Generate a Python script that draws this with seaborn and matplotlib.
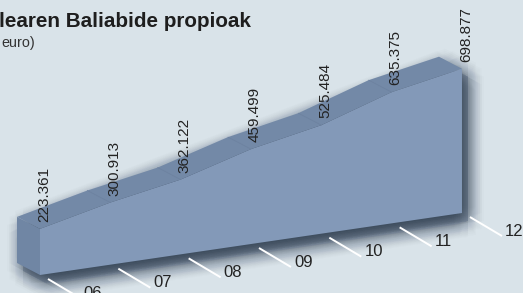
import matplotlib
matplotlib.use("Agg")
import matplotlib.pyplot as plt
import matplotlib.transforms as mtransforms
from matplotlib.patches import Polygon
import numpy as np
import pandas as pd
import seaborn as sns

# datuak
years = ['06', '07', '08', '09', '10', '11', '12']
values = [223.361, 300.913, 362.122, 459.499, 525.484, 635.375, 698.877]
title = 'learen Baliabide propioak'
subtitle = 'euro)'

df = pd.DataFrame({'urtea': years, 'balioa': values})
df['i'] = np.arange(len(df))

sns.set_theme(style='white')
plt.rcParams['font.family'] = ['Liberation Sans', 'DejaVu Sans']
narrow = ['Liberation Sans Narrow', 'Liberation Sans', 'DejaVu Sans']

bg = '#d9e3e9'
front_c = '#8399b8'
top_c = '#7389a7'
side_c = '#7086a4'

fig = plt.figure(figsize=(5.23, 2.93), dpi=100, facecolor=bg)
ax = fig.add_axes([0, 0, 1, 1])
ax.set_facecolor(bg)
ax.set_xlim(0, 523)
ax.set_ylim(293, 0)
ax.axis('off')

# pseudo-3D eskala: (urte indizea, balioa) -> irudiko puntuak
step_x, step_y, vscale = 70.33, 10.33, 0.2065
base_x, base_y = 40, 275
skew = mtransforms.Affine2D(np.array([[step_x, 0, base_x],
                                      [-step_y, -vscale, base_y],
                                      [0, 0, 1]]))
depth = np.array([-23, -12])

n = len(df)
pts_top = skew.transform(np.column_stack([df['i'], df['balioa']]))
pts_bot = skew.transform(np.column_stack([df['i'], np.zeros(n)]))

front = np.vstack([pts_top, pts_bot[::-1]])
topface = np.vstack([pts_top, (pts_top + depth)[::-1]])
side = np.array([pts_bot[0], pts_top[0], pts_top[0] + depth, pts_bot[0] + depth])
silhouette = np.vstack([pts_bot[0] + depth, pts_top[0] + depth, pts_top[-1] + depth,
                        pts_top[-1], pts_bot[-1], pts_bot[0]])

# itzal lausoa
for r in np.linspace(0, 16, 9):
    for ang in np.linspace(0, 2 * np.pi, 12, endpoint=False):
        off = np.array([6 + r * np.cos(ang), 8 + r * np.sin(ang)])
        ax.add_patch(Polygon(silhouette + off, closed=True, fc='#34455c',
                             ec='none', alpha=0.016))

ax.add_patch(Polygon(side, closed=True, fc=side_c, ec='none'))
ax.add_patch(Polygon(topface, closed=True, fc=top_c, ec='none'))
ax.add_patch(Polygon(front, closed=True, fc=front_c, ec='none'))
for k in range(1, n - 1):
    ax.plot([pts_top[k][0], pts_top[k][0] + depth[0]],
            [pts_top[k][1], pts_top[k][1] + depth[1]],
            color='#6d82a0', lw=0.6)

# balioen etiketak
for (x, y), v in zip(pts_top, df['balioa']):
    ax.text(x + 4, y - 7, f'{v:.3f}', rotation=90, ha='center', va='bottom',
            fontsize=11, color='#222222', family=narrow)

# urteen markak
for (x, y), lab in zip(pts_bot, df['urtea']):
    x0, y0 = x + 8, y + 4
    x1, y1 = x0 + 32, y0 + 19
    ax.plot([x0, x1], [y0, y1], color='white', lw=1.4, solid_capstyle='butt')
    ax.text(x1 + 3, y1 - 5, lab, ha='left', va='center', fontsize=12,
            color='#222222', family=narrow)

ax.text(-1, 27, title, ha='left', va='baseline', fontsize=14.9,
        fontweight='bold', color='#1e1e1e')
ax.text(1, 47, subtitle, ha='left', va='baseline', fontsize=10.4,
        color='#333333')

fig.savefig('out.png', dpi=100, facecolor=bg)
